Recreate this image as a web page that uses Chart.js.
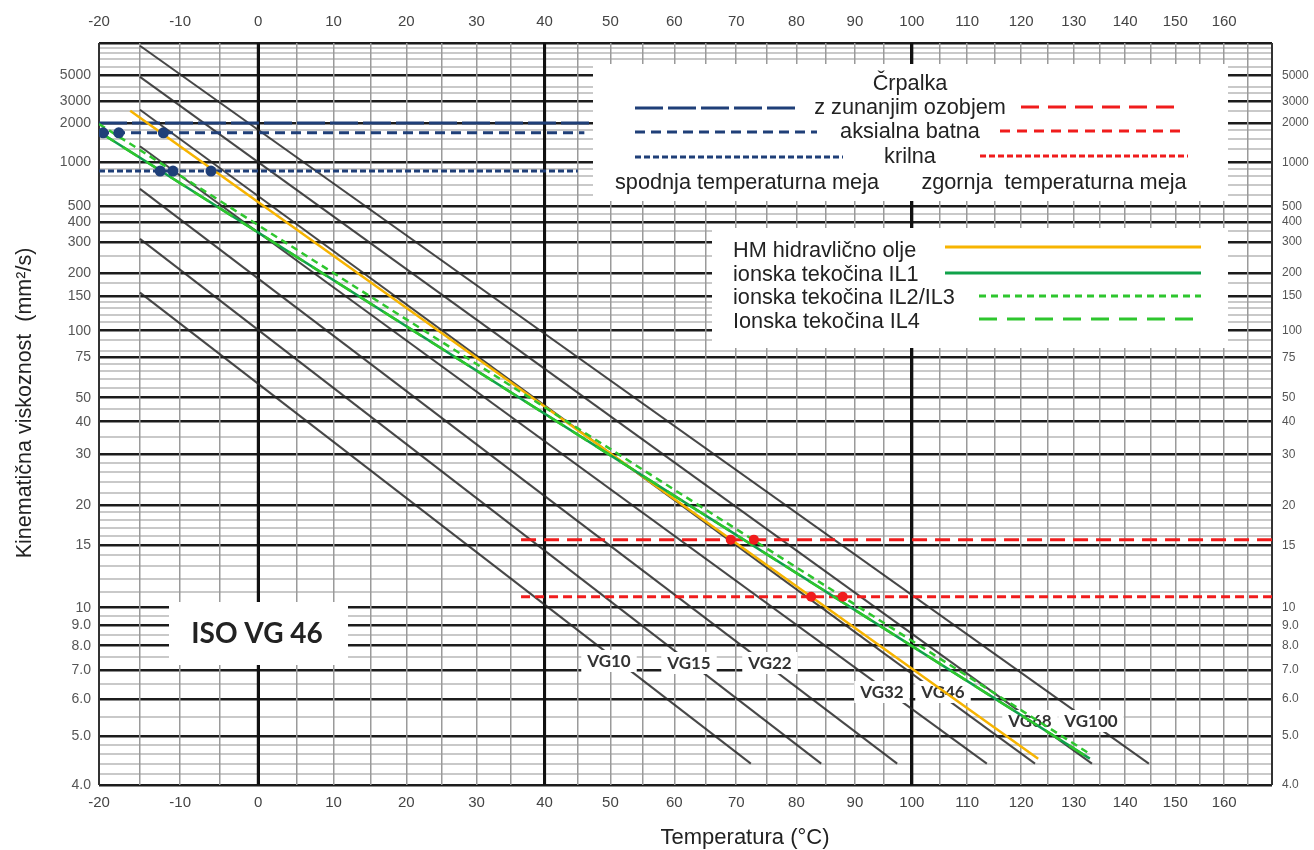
<!DOCTYPE html>
<html>
<head>
<meta charset="utf-8">
<script src="https://cdn.jsdelivr.net/npm/chart.js@4.4.1/dist/chart.umd.min.js"></script>
<style>
  html, body { margin: 0; padding: 0; background: #fff; }
  #wrap { width: 1314px; height: 850px; }
</style>
</head>
<body>
<div id="wrap"><canvas id="chart" width="1314" height="850"></canvas></div>
<script>
// axis ticks (temperature in °C, kinematic viscosity in mm2/s)
const tempGrid = [-20, -15, -10, -5, 0, 5, 10, 15, 20, 25, 30, 35, 40, 45, 50, 55, 60, 65, 70, 75, 80, 85, 90, 95, 100, 105, 110, 115, 120, 125, 130, 135, 140, 145, 150, 155, 160, 165, 170];
const tempLabels = [-20, -10, 0, 10, 20, 30, 40, 50, 60, 70, 80, 90, 100, 110, 120, 130, 140, 150, 160];
const viscLabels = [5000, 3000, 2000, 1000, 500, 400, 300, 200, 150, 100, 75, 50, 40, 30, 20, 15, 10, 9, 8, 7, 6, 5, 4];
const viscMajorGrid = [10000, 5000, 3000, 2000, 1000, 500, 400, 300, 200, 150, 100, 75, 50, 40, 30, 20, 15, 10, 9, 8, 7, 6, 5, 4];
const viscMinorGrid = [9000, 8000, 7000, 6000, 4000, 3500, 2500, 1750, 1500, 1250, 900, 800, 700, 600, 450, 350, 250, 175,
  140, 130, 120, 110, 90, 80, 70, 65, 60, 55, 45, 35, 28, 26, 24, 22, 19, 18, 17, 16, 14, 13, 12, 11,
  9.5, 8.5, 7.5, 6.5, 5.5, 4.8, 4.6, 4.4, 4.2];

// ISO VG reference lines
const vgNames = ["VG10", "VG15", "VG22", "VG32", "VG46", "VG68", "VG100"];
const vgStartTemp = [-15, -15, -15, -15, -15, -15, -15];
const vgStartVisc = [156, 314, 655, 1320, 2550, 4860, 9400];
const vgEndTemp = [72.4, 84.2, 97.4, 113.6, 122.6, 133.5, 144.7];
const vgEndVisc = [4.4, 4.4, 4.4, 4.4, 4.4, 4.4, 4.4];

// fluids
const fluidNames = ["HM hidravlično olje", "ionska tekočina IL1", "ionska tekočina IL2/IL3", "Ionska tekočina IL4"];
const fluidStartTemp = [-16.2, -20, -20, -20];
const fluidStartVisc = [2500, 1700, 1960, 1700];
const fluidEndTemp = [123.2, 133.1, 133.1, 133.1];
const fluidEndVisc = [4.5, 4.5, 4.6, 4.5];

// pump limits
const pumpNames = ["z zunanjim ozobjem", "aksialna batna", "krilna"];
const lowerLimitVisc = [2000, 1670, 870];
const lowerLimitFrom = [-20, -20, -20];
const lowerLimitTo = [47, 46, 45];
const upperLimitVisc = [15.6, 10.7];
const upperLimitFrom = [36.5, 36.5];
const upperLimitTo = [170, 170];

const lowerDotTemp = [-19.5, -17.6, -12.1, -12.5, -10.9, -6.1];
const lowerDotVisc = [1670, 1670, 1670, 870, 870, 870];
const upperDotTemp = [69.1, 72.9, 82.5, 87.9];
const upperDotVisc = [15.6, 15.6, 10.7, 10.7];

// styles
const FONT = "'Liberation Sans', Arial, sans-serif";
const BLUE = "#1f3f78";
const RED = "#f01c1c";
const vgStyle = { color: "rgba(40,40,40,0.85)", width: 2 };
const fluidStyles = [
  { color: "#f7b400", width: 2.5, dash: [] },
  { color: "#10a24a", width: 2.5, dash: [] },
  { color: "#2ec62e", width: 2.5, dash: [7, 5] },
  { color: "#2ec62e", width: 2.5, dash: [18, 10] }
];
const lowerDash = [[28, 5], [10, 6], [6, 3]];
const legendRedDash = [[18, 9], [10, 7], [6, 3]];
const upperDash = [[15, 8], [9, 5]];
const heavyTemps = [0, 40, 100];

// Walther / ASTM transforms
const tx = t => Math.log(t + 273.15);
const vy = v => Math.log10(Math.log10(v + 0.7));
const toTemp = x => Math.round(Math.exp(x) - 273.15);
const toVisc = y => Math.pow(10, Math.pow(10, y)) - 0.7;
const near = (a, b) => Math.abs(a - b) / b < 1e-6;

function seg(t1, v1, t2, v2) {
  return [{ x: tx(t1), y: vy(v1) }, { x: tx(t2), y: vy(v2) }];
}

const datasets = [];
vgNames.forEach((name, i) => {
  datasets.push({
    label: name, data: seg(vgStartTemp[i], vgStartVisc[i], vgEndTemp[i], vgEndVisc[i]),
    showLine: true, pointRadius: 0, borderColor: vgStyle.color, borderWidth: vgStyle.width, order: 4
  });
});
lowerLimitVisc.forEach((v, i) => {
  datasets.push({
    label: pumpNames[i], data: seg(lowerLimitFrom[i], v, lowerLimitTo[i], v),
    showLine: true, pointRadius: 0, borderColor: BLUE, borderWidth: 3, borderDash: lowerDash[i], order: 3
  });
});
upperLimitVisc.forEach((v, i) => {
  datasets.push({
    label: "zgornja " + i, data: seg(upperLimitFrom[i], v, upperLimitTo[i], v),
    showLine: true, pointRadius: 0, borderColor: RED, borderWidth: 3, borderDash: upperDash[i], order: 3
  });
});
[3, 2, 1, 0].forEach(i => {
  const s = fluidStyles[i];
  datasets.push({
    label: fluidNames[i], data: seg(fluidStartTemp[i], fluidStartVisc[i], fluidEndTemp[i], fluidEndVisc[i]),
    showLine: true, pointRadius: 0, borderColor: s.color, borderWidth: s.width, borderDash: s.dash, order: 2
  });
});
datasets.push({
  label: "spodnja", data: lowerDotTemp.map((t, i) => ({ x: tx(t), y: vy(lowerDotVisc[i]) })),
  pointRadius: 5.5, pointBackgroundColor: BLUE, pointBorderWidth: 0, order: 1
});
datasets.push({
  label: "zgornja", data: upperDotTemp.map((t, i) => ({ x: tx(t), y: vy(upperDotVisc[i]) })),
  pointRadius: 5, pointBackgroundColor: RED, pointBorderWidth: 0, order: 1
});

// label boxes (pixel layout)
const vgLabelX = [609, 689, 770, 882, 943, 1030, 1091];
const vgLabelY = [661, 663, 663, 692, 692, 721, 721];

function line(c, x1, y1, x2, y2, color, width, dash) {
  c.save();
  c.strokeStyle = color;
  c.lineWidth = width;
  c.setLineDash(dash || []);
  c.beginPath();
  c.moveTo(x1, y1);
  c.lineTo(x2, y2);
  c.stroke();
  c.restore();
}

function text(c, str, x, y, font, align, color) {
  c.font = font;
  c.textAlign = align || "center";
  c.textBaseline = "middle";
  c.fillStyle = color || "#222";
  c.fillText(str, x, y);
}

const overlay = {
  id: "overlay",
  beforeDatasetsDraw(chart) {
    // heavy reference temperatures on top of the dense viscosity grid
    const c = chart.ctx;
    const { top, bottom } = chart.chartArea;
    heavyTemps.forEach(t => {
      const x = chart.scales.x.getPixelForValue(tx(t));
      line(c, x, top, x, bottom, "#111", 3);
    });
  },
  afterDatasetDraw(chart, args) {
    if (args.index !== 0) return;
    const c = chart.ctx;
    c.save();
    c.font = "bold 17px Lato, 'Open Sans', sans-serif";
    vgNames.forEach((name, i) => {
      const w = c.measureText(name).width + 12;
      c.fillStyle = "#fff";
      c.fillRect(vgLabelX[i] - w / 2, vgLabelY[i] - 11, w, 22);
      text(c, name, vgLabelX[i], vgLabelY[i] + 1, "bold 17px Lato, 'Open Sans', sans-serif", "center", "#333");
    });
    c.restore();
  },
  afterDatasetsDraw(chart) {
    const c = chart.ctx;
    c.save();
    c.fillStyle = "#fff";
    c.fillRect(593, 64, 635, 137);
    c.fillRect(712, 228, 516, 120);
    c.fillRect(169, 602, 179, 63);

    const f = "21.7px " + FONT;
    text(c, "Črpalka", 910, 84, f);
    const rowY = [108, 132, 157];
    const blueEnd = [796, 817, 843];
    const redStart = [1021, 1000, 980];
    const redEnd = [1182, 1182, 1188];
    pumpNames.forEach((name, i) => {
      text(c, name, 910, rowY[i], f);
      line(c, 635, rowY[i], blueEnd[i], rowY[i], BLUE, 3, lowerDash[i]);
      line(c, redStart[i], rowY[i] - 1, redEnd[i], rowY[i] - 1, RED, 3, legendRedDash[i]);
    });
    text(c, "spodnja temperaturna meja", 747, 183, f);
    text(c, "zgornja  temperaturna meja", 1054, 183, f);

    const fy = [251, 275, 298, 322];
    const ly = [247, 273, 296, 319];
    const lx = [945, 945, 979, 979];
    fluidNames.forEach((name, i) => {
      text(c, name, 733, fy[i], f, "left");
      const s = fluidStyles[i];
      line(c, lx[i], ly[i], 1201, ly[i], s.color, 3, s.dash);
    });

    text(c, "ISO VG 46", 257, 634, "bold 28px Lato, 'Open Sans', sans-serif", "center", "#222");

    // axis titles
    text(c, "Temperatura (°C)", 745, 838, "22px " + FONT);
    c.save();
    c.translate(25, 403);
    c.rotate(-Math.PI / 2);
    text(c, "Kinematična viskoznost  (mm²/s)", 0, 0, "21.5px " + FONT);
    c.restore();
    c.restore();
  }
};

const tempTickList = () => tempGrid.map(t => ({ value: tx(t) }));
const viscTickList = () => viscMajorGrid.concat(viscMinorGrid).map(v => ({ value: vy(v) }));
const tempLabel = v => { const t = toTemp(v); return tempLabels.includes(t) ? String(t) : ""; };
const viscLabel = v => {
  const nu = toVisc(v);
  const hit = viscLabels.find(l => near(nu, l));
  if (hit === undefined) return "";
  return hit < 10 ? hit.toFixed(1) : String(hit);
};
const isMajorVisc = v => viscMajorGrid.some(l => near(toVisc(v), l));

new Chart(document.getElementById("chart"), {
  type: "scatter",
  data: { datasets },
  options: {
    responsive: false,
    animation: false,
    layout: { padding: 0 },
    plugins: { legend: { display: false }, tooltip: { enabled: false } },
    scales: {
      y: {
        type: "linear", position: "left", min: vy(4), max: vy(10000),
        afterBuildTicks: s => { s.ticks = viscTickList(); },
        afterFit: s => { s.width = 99; },
        border: { display: false },
        grid: {
          drawTicks: false,
          color: ctx => isMajorVisc(ctx.tick.value) ? "#1c1c1c" : "#c9c9c9",
          lineWidth: ctx => isMajorVisc(ctx.tick.value) ? 2.5 : 2
        },
        ticks: { autoSkip: false, padding: 8, color: "#555", font: { family: FONT, size: 14 }, callback: viscLabel }
      },
      yRight: {
        type: "linear", position: "right", min: vy(4), max: vy(10000),
        afterBuildTicks: s => { s.ticks = viscTickList(); },
        afterFit: s => { s.width = 42; },
        border: { display: false },
        grid: { display: false, drawTicks: false },
        ticks: { autoSkip: false, padding: 10, color: "#555", font: { family: FONT, size: 12 }, callback: viscLabel }
      },
      x: {
        type: "linear", position: "bottom", min: tx(-20), max: tx(170),
        afterBuildTicks: s => { s.ticks = tempTickList(); },
        afterFit: s => { s.height = 65; },
        border: { display: false },
        grid: {
          drawTicks: false,
          color: ctx => {
            const t = toTemp(ctx.tick.value);
            if (heavyTemps.includes(t)) return "#111";
            if (t === 170 || t === -20) return "#333";
            return "#9a9a9a";
          },
          lineWidth: ctx => {
            const t = toTemp(ctx.tick.value);
            if (heavyTemps.includes(t)) return 3;
            if (t === 170 || t === -20) return 2;
            return 1.5;
          }
        },
        ticks: { autoSkip: false, maxRotation: 0, padding: 9, color: "#444", font: { family: FONT, size: 15 }, callback: tempLabel }
      },
      xTop: {
        type: "linear", position: "top", min: tx(-20), max: tx(170),
        afterBuildTicks: s => { s.ticks = tempTickList(); },
        afterFit: s => { s.height = 43; },
        border: { display: false },
        grid: { display: false, drawTicks: false },
        ticks: { autoSkip: false, maxRotation: 0, padding: 12, color: "#444", font: { family: FONT, size: 15 }, callback: tempLabel }
      }
    }
  },
  plugins: [overlay]
});
</script>
</body>
</html>
